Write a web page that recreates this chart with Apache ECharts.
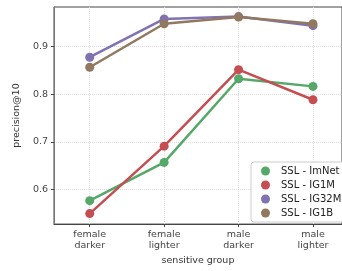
<!DOCTYPE html>
<html style="height: 100%">
<head>
    <meta charset="utf-8">
    <title>precision@10</title>
    <script type="text/javascript" src="https://cdn.jsdelivr.net/npm/echarts@6/dist/echarts.min.js"></script>
</head>
<body style="height: 100%; margin: 0; padding: 0; background: #fff;">
<div id="container" style="width: 342px; height: 271px;"></div>
<script type="text/javascript">
    // 数据
    var categories = ['female\ndarker', 'female\nlighter', 'male\ndarker', 'male\nlighter'];
    var seriesNames = ['SSL - ImNet', 'SSL - IG1M', 'SSL - IG32M', 'SSL - IG1B'];
    var imnet = [0.577, 0.657, 0.832, 0.816];
    var ig1m = [0.550, 0.691, 0.851, 0.788];
    var ig32m = [0.877, 0.957, 0.962, 0.943];
    var ig1b = [0.856, 0.947, 0.961, 0.947];
    var yTicks = [0.6, 0.7, 0.8, 0.9];
    var colors = ['#55a868', '#c44e52', '#8172b2', '#937860'];

    var font = 'DejaVu Sans';
    var allData = [imnet, ig1m, ig32m, ig1b];
    var seriesArr = [];
    for (var i = 0; i < allData.length; i++) {
        var pts = [];
        for (var j = 0; j < allData[i].length; j++) {
            pts.push([j, allData[i][j]]);
        }
        seriesArr.push({
            name: seriesNames[i],
            type: 'line',
            data: pts,
            symbol: 'circle',
            symbolSize: 9,
            lineStyle: { width: 2.5, color: colors[i] },
            itemStyle: { color: colors[i] },
            z: 2 + i
        });
    }

    var myChart = echarts.init(document.getElementById('container'));
    var option = {
        animation: false,
        grid: {
            left: 54, top: 7, right: -6, bottom: 43,
            show: true, borderColor: '#444', borderWidth: 1
        },
        legend: {
            data: seriesNames.map(function (n, k) {
                return { name: n, icon: 'circle', itemStyle: { color: colors[k] } };
            }),
            orient: 'vertical',
            left: 251, top: 162,
            itemWidth: 9, itemHeight: 9, itemGap: 4,
            padding: [4, 12, 4, 10],
            backgroundColor: '#fff',
            borderColor: '#ccc', borderWidth: 1, borderRadius: 3,
            textStyle: { fontFamily: font, fontSize: 10, color: '#222', padding: [0, 0, 0, 6] }
        },
        xAxis: {
            type: 'value',
            min: -0.48, max: 3.39,
            name: 'sensitive group',
            nameLocation: 'middle',
            nameGap: 28,
            nameTextStyle: { fontFamily: font, fontSize: 9.5, color: '#333' },
            axisLine: { onZero: false, lineStyle: { color: '#444' } },
            axisTick: { show: true, length: 3, customValues: [0, 1, 2, 3], lineStyle: { color: '#444' } },
            axisLabel: {
                customValues: [0, 1, 2, 3],
                formatter: function (v) { return categories[Math.round(v)]; },
                fontFamily: font, fontSize: 9.5, color: '#444', lineHeight: 11, margin: 5
            },
            splitLine: { show: true, lineStyle: { color: '#ddd', type: 'dotted' } }
        },
        yAxis: {
            type: 'value',
            min: 0.528, max: 0.982,
            name: 'precision@10',
            nameLocation: 'middle',
            nameGap: 30,
            nameTextStyle: { fontFamily: font, fontSize: 9.5, color: '#333' },
            axisLine: { show: true, onZero: false, lineStyle: { color: '#777' } },
            axisTick: { show: true, length: 3, customValues: yTicks, lineStyle: { color: '#444' } },
            axisLabel: {
                customValues: yTicks,
                formatter: function (v) { return v.toFixed(1); },
                fontFamily: font, fontSize: 9.5, color: '#444', margin: 6
            },
            splitLine: { show: true, lineStyle: { color: '#ddd', type: 'dotted' } }
        },
        series: seriesArr
    };
    myChart.setOption(option, true);
</script>
</body>
</html>
